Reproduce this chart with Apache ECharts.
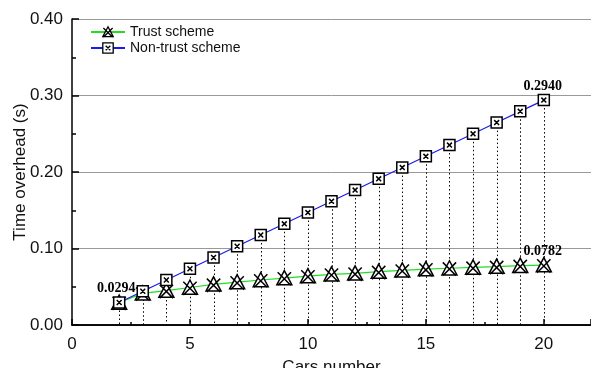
<!DOCTYPE html>
<html>
<head>
<meta charset="utf-8">
<script src="https://cdn.jsdelivr.net/npm/echarts@6/dist/echarts.min.js"></script>
<style>
  html, body { margin: 0; padding: 0; background: #fff; }
  #chart { width: 591px; height: 368px; }
</style>
</head>
<body>
<div id="chart"></div>
<script>
// Number of cars in the network
const carsNumber = [2, 3, 4, 5, 6, 7, 8, 9, 10, 11, 12, 13, 14, 15, 16, 17, 18, 19, 20];
// Time overhead (s) of each scheme
const trustScheme = [0.0294, 0.0414, 0.0449, 0.0490, 0.0530, 0.0560, 0.0588, 0.0614, 0.0640,
                     0.0663, 0.0675, 0.0697, 0.0715, 0.0730, 0.0742, 0.0752, 0.0762, 0.0775, 0.0782];
const nonTrustScheme = [0.0294, 0.0441, 0.0588, 0.0735, 0.0882, 0.1029, 0.1176, 0.1323, 0.1470,
                        0.1617, 0.1764, 0.1911, 0.2058, 0.2205, 0.2352, 0.2499, 0.2646, 0.2793, 0.2940];
const yTicks = [0.00, 0.10, 0.20, 0.30, 0.40];
const xTicks = [0, 5, 10, 15, 20];

// Marker glyphs: triangle crossed by an X, and a square with an X inside
const triSymbol = 'path://M10,1 L19,18 L1,18 Z M2,3 L18,19 M18,3 L2,19';
const sqSymbol = 'path://M1,1 L19,1 L19,19 L1,19 Z M6,6 L14,14 M14,6 L6,14';

const valueLabel = (offset) => ({
  show: true, position: 'top', offset: offset,
  fontFamily: 'Liberation Serif, Times New Roman, serif', fontWeight: 'bold', fontSize: 14,
  color: '#000', formatter: p => p.value[1].toFixed(4)
});

function pts(values, labelled) {
  return carsNumber.map((x, i) => {
    const item = { value: [x, values[i]] };
    if (labelled[i]) item.label = labelled[i];
    return item;
  });
}

const last = carsNumber.length - 1;
const trustLabels = {}; trustLabels[0] = valueLabel([-3, 6]); trustLabels[last] = valueLabel([-1, 6]);
const nonTrustLabels = {}; nonTrustLabels[last] = valueLabel([-1, 5]);

const axisFont = { fontFamily: 'Liberation Sans, Arial, sans-serif', fontSize: 17, color: '#111' };
const nameFont = Object.assign({}, axisFont, { fontSize: 17 });

const chart = echarts.init(document.getElementById('chart'), null, { renderer: 'canvas' });
chart.setOption({
  animation: false,
  grid: { left: 72, right: 0, top: 19, bottom: 43, containLabel: false, outerBoundsMode: 'none' },
  legend: {
    left: 85, top: 20, orient: 'vertical', itemWidth: 34, itemHeight: 13, itemGap: 2,
    textStyle: { fontFamily: 'Liberation Sans, Arial, sans-serif', fontSize: 14, color: '#111' },
    itemStyle: { color: '#fff', borderColor: '#000', borderWidth: 1.3 },
    data: ['Trust scheme', 'Non-trust scheme']
  },
  xAxis: [{
    type: 'value', min: 0, max: 22, interval: 5,
    name: 'Cars number', nameLocation: 'middle', nameGap: 34, nameMoveOverlap: false,
    nameTextStyle: nameFont,
    axisLine: { show: true, onZero: false, lineStyle: { color: '#000', width: 1.5 } },
    axisTick: { show: true, inside: true, length: 6, lineStyle: { color: '#000', width: 1.5 } },
    minorTick: { show: true, splitNumber: 2, length: 3, lineStyle: { color: '#000', width: 1.5 } },
    axisLabel: Object.assign({ margin: 11, showMaxLabel: false, formatter: v => xTicks.includes(v) ? String(v) : '' }, axisFont),
    splitLine: { show: false }
  }, {
    type: 'value', min: 0, max: 22, position: 'top',
    axisLine: { show: true, lineStyle: { color: '#000', width: 1.5 } },
    axisTick: { show: false }, axisLabel: { show: false }, splitLine: { show: false }
  }],
  yAxis: {
    type: 'value', min: 0, max: 0.4, interval: 0.1,
    name: 'Time overhead (s)', nameLocation: 'middle', nameGap: 43, nameMoveOverlap: false,
    nameTextStyle: nameFont,
    axisLine: { show: true, lineStyle: { color: '#000', width: 1.5 } },
    axisTick: { show: true, inside: true, length: 7, lineStyle: { color: '#000', width: 1.5 } },
    minorTick: { show: true, splitNumber: 2, length: 4, lineStyle: { color: '#000', width: 1.5 } },
    axisLabel: Object.assign({ margin: 9, formatter: v => {
      const t = yTicks.find(y => Math.abs(y - v) < 1e-9);
      return t === undefined ? '' : t.toFixed(2);
    } }, axisFont),
    splitLine: { show: true, lineStyle: { color: '#999', width: 1 } }
  },
  series: [
    {
      // dotted drop lines from each point down to the x axis
      type: 'custom', silent: true, z: 1,
      data: carsNumber.map((x, i) => [x, Math.max(trustScheme[i], nonTrustScheme[i])]),
      renderItem: (params, api) => {
        const p0 = api.coord([api.value(0), api.value(1)]);
        const p1 = api.coord([api.value(0), 0]);
        return {
          type: 'line',
          shape: { x1: Math.round(p0[0]) + 0.5, y1: p0[1], x2: Math.round(p1[0]) + 0.5, y2: p1[1] },
          style: { stroke: '#000', lineWidth: 1, lineDash: [1.5, 2.5] }
        };
      }
    },
    {
      name: 'Trust scheme', type: 'line', z: 3,
      data: pts(trustScheme, trustLabels),
      symbol: triSymbol, symbolSize: 15, showAllSymbol: true,
      lineStyle: { color: '#22dd22', width: 1.2 },
      itemStyle: { color: '#fff', borderColor: '#000', borderWidth: 1.5 }
    },
    {
      name: 'Non-trust scheme', type: 'line', z: 4,
      data: pts(nonTrustScheme, nonTrustLabels),
      symbol: sqSymbol, symbolSize: 11, showAllSymbol: true,
      lineStyle: { color: '#1a1aee', width: 1.2 },
      itemStyle: { color: '#fff', borderColor: '#000', borderWidth: 1.5 }
    }
  ]
});
</script>
</body>
</html>
